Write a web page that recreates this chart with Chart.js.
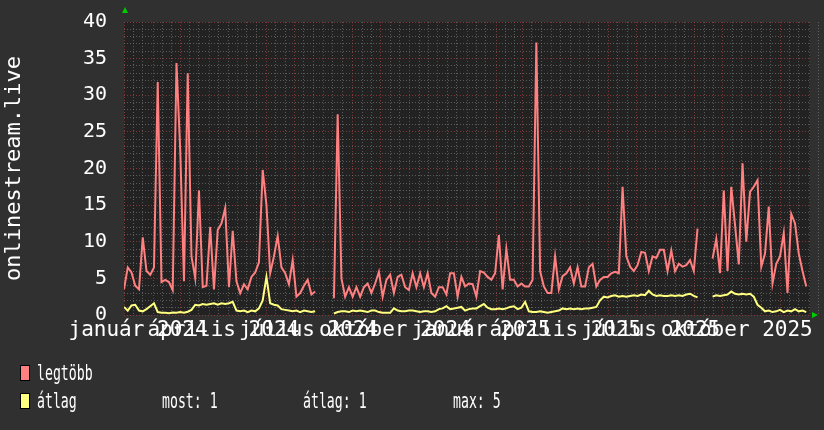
<!DOCTYPE html>
<html>
<head>
<meta charset="utf-8">
<script src="https://cdn.jsdelivr.net/npm/chart.js@4.4.0/dist/chart.umd.min.js"></script>
<style>
  html, body { margin: 0; padding: 0; background: #303030; }
</style>
</head>
<body>
<canvas id="graficoStream" width="824" height="430"></canvas>
<script>
// eje X en días desde 2024-01-01, una muestra cada 4 días
const pasoDias = 4;
const diasTotales = 732;
const inicioMeses = [0, 31, 60, 91, 121, 152, 182, 213, 244, 274, 305, 335, 366, 397, 425, 456, 486, 517, 547, 578, 609, 639, 670, 700, 731];
const etiquetasDias = [15, 106, 197, 289, 381, 471, 562, 654];
const etiquetasTexto = ['január 2024', 'április 2024', 'július 2024', 'október 2024', 'január 2025', 'április 2025', 'július 2025', 'október 2025'];

const maxVals = [
  3.5, 6.5, 5.8, 4.0, 3.5, 10.6, 6.0, 5.5, 6.5, 31.8,
  4.5, 4.8, 4.5, 3.4, 34.4, 22.5, 4.6, 33.0, 8.0, 5.0,
  17.0, 3.8, 4.0, 12.0, 3.5, 11.6, 12.5, 14.6, 3.8, 11.5,
  4.6, 3.0, 4.2, 3.5, 5.2, 5.8, 7.2, 19.8, 15.0, 5.7,
  8.0, 10.8, 6.5, 5.7, 4.2, 7.5, 2.5, 3.0, 4.0, 4.8,
  2.8, 3.2, null, null, null, null, 2.3, 27.4, 5.0, 2.5,
  3.8, 2.5, 3.8, 2.5, 3.8, 4.3, 3.0, 4.3, 5.9, 2.5,
  4.8, 5.5, 3.0, 5.2, 5.5, 3.8, 3.4, 5.7, 3.8, 5.7,
  3.8, 5.7, 3.0, 2.5, 3.8, 3.8, 2.8, 5.7, 5.7, 2.5,
  5.2, 3.9, 4.3, 4.2, 2.5, 6.0, 5.8, 5.2, 4.8, 5.7,
  10.9, 3.5, 9.0, 4.8, 4.8, 3.9, 4.3, 3.9, 3.9, 4.8,
  37.2, 6.0, 3.9, 3.0, 3.0, 8.0, 3.5, 5.3, 5.7, 6.5,
  4.3, 6.5, 3.9, 3.9, 6.5, 7.0, 3.9, 4.8, 5.2, 5.2,
  5.7, 5.9, 5.7, 17.5, 8.0, 6.6, 6.0, 6.8, 8.6, 8.5,
  6.0, 8.0, 7.8, 8.9, 8.9, 6.0, 8.8, 6.0, 7.0, 6.6,
  6.8, 7.5, 6.0, 11.8, null, null, null, 7.7, 10.4, 5.7,
  17.0, 6.0, 17.5, 12.3, 6.9, 20.7, 10.0, 16.8, 17.5, 18.4,
  6.6, 8.4, 14.8, 4.3, 7.0, 8.0, 11.2, 3.0, 13.8, 12.5,
  8.4, 6.0, 3.9
];

const avgVals = [
  1.1, 0.6, 1.3, 1.4, 0.6, 0.5, 0.8, 1.2, 1.6, 0.4,
  0.3, 0.3, 0.25, 0.35, 0.3, 0.4, 0.3, 0.45, 0.7, 1.4,
  1.3, 1.5, 1.4, 1.5, 1.6, 1.4, 1.6, 1.5, 1.6, 1.8,
  0.6, 0.5, 0.6, 0.4, 0.6, 0.5, 0.9, 2.0, 5.2, 1.6,
  1.4, 1.3, 0.8, 0.7, 0.6, 0.5, 0.6, 0.4, 0.6, 0.5,
  0.4, 0.5, null, null, null, null, 0.2, 0.4, 0.5, 0.5,
  0.4, 0.6, 0.5, 0.6, 0.5, 0.4, 0.6, 0.6, 0.4, 0.3,
  0.3, 0.3, 0.9, 0.6, 0.5, 0.5, 0.6, 0.6, 0.5, 0.4,
  0.5, 0.5, 0.4, 0.5, 0.8, 0.9, 1.2, 0.8, 0.9, 1.0,
  1.1, 0.6, 0.8, 0.9, 0.9, 1.2, 1.5, 1.0, 0.8, 0.8,
  0.9, 0.8, 0.9, 1.1, 1.2, 0.8, 1.0, 1.8, 0.5, 0.4,
  0.4, 0.5, 0.4, 0.3, 0.4, 0.5, 0.6, 0.9, 0.8, 0.9,
  0.8, 0.9, 0.8, 0.9, 0.9, 1.0, 1.1, 2.0, 2.5, 2.4,
  2.6, 2.7, 2.5, 2.6, 2.5, 2.6, 2.7, 2.6, 2.8, 2.7,
  3.3, 2.8, 2.6, 2.7, 2.6, 2.6, 2.7, 2.6, 2.7, 2.6,
  2.8, 2.9, 2.6, 2.4, null, null, null, 2.5, 2.7, 2.6,
  2.7, 2.8, 3.2, 2.9, 2.8, 2.9, 2.8, 2.9, 2.5, 1.4,
  1.0, 0.5, 0.6, 0.4, 0.5, 0.7, 0.4, 0.6, 0.5, 0.8,
  0.5, 0.6, 0.4
];

const series = [
  { nombre: 'legtöbb', color: '#ff8080', valores: maxVals },
  { nombre: 'átlag', color: '#ffff80', valores: avgVals }
];
const estadisticas = [['most', 1], ['átlag', 1], ['max', 5]];

const fuente = "'DejaVu Sans Mono', monospace";
const rojoGrid = 'rgba(190, 70, 70, 0.6)';
const grisGrid = 'rgba(130, 130, 130, 0.6)';

// rejilla menor: cada ~10 días dentro del mes
const diasMenores = [];
inicioMeses.forEach(d => { diasMenores.push(d + 10, d + 20); });

const fondoPlugin = {
  id: 'fondo',
  beforeDraw(chart) {
    const { ctx, chartArea: a } = chart;
    ctx.save();
    ctx.fillStyle = '#303030';
    ctx.fillRect(0, 0, chart.width, chart.height);
    ctx.fillStyle = '#222222';
    ctx.fillRect(a.left, a.top, a.right - a.left, a.bottom - a.top);
    ctx.restore();
  },
  afterDraw(chart) {
    const { ctx, chartArea: a } = chart;
    ctx.save();
    // flechas verdes de los ejes
    ctx.fillStyle = '#00cc00';
    ctx.beginPath();
    ctx.moveTo(a.left - 2, 13); ctx.lineTo(a.left + 4, 13); ctx.lineTo(a.left + 1, 7);
    ctx.fill();
    ctx.beginPath();
    ctx.moveTo(a.right + 2, a.bottom - 3); ctx.lineTo(a.right + 2, a.bottom + 3); ctx.lineTo(a.right + 8, a.bottom);
    ctx.fill();

    // leyenda estilo rrdtool
    const texto = (t, x, y) => {
      ctx.save();
      ctx.translate(x, y);
      ctx.scale(0.6, 1);
      ctx.fillText(t, 0, 0);
      ctx.restore();
    };
    ctx.font = '22px ' + fuente;
    ctx.textBaseline = 'alphabetic';
    series.forEach((s, fila) => {
      const top = 365 + fila * 28;
      ctx.fillStyle = s.color;
      ctx.fillRect(20, top, 10, 16);
      ctx.strokeStyle = '#000';
      ctx.lineWidth = 1;
      ctx.strokeRect(20.5, top + 0.5, 9, 15);
      ctx.fillStyle = '#ffffff';
      texto(s.nombre, 37, top + 15);
    });
    const colX = [162, 303, 453];
    estadisticas.forEach((e, k) => {
      texto(e[0] + ': ' + e[1], colX[k], 365 + 28 + 15);
    });
    ctx.restore();
  }
};

const gridOnly = (axis, ticksArr, color) => ({
  type: 'linear',
  axis: axis,
  position: axis === 'x' ? 'bottom' : 'left',
  min: 0,
  max: axis === 'x' ? diasTotales : 40,
  ticks: { display: false },
  grid: { color: color, lineWidth: 1, drawTicks: false },
  border: { display: false, dash: [1, 2] },
  afterBuildTicks: scale => { scale.ticks = ticksArr.map(v => ({ value: v })); },
  afterFit: scale => {
    if (axis === 'x') scale.height = 0; else scale.width = 0;
    scale.paddingTop = 0; scale.paddingBottom = 0;
  }
});

const yMenores = [];
for (let v = 1; v < 40; v++) if (v % 5 !== 0) yMenores.push(v);

const ctx = document.getElementById('graficoStream').getContext('2d');
new Chart(ctx, {
  type: 'line',
  data: {
    datasets: series.map((s, i) => ({
      label: s.nombre,
      data: s.valores.map((v, k) => ({ x: k * pasoDias, y: v })),
      borderColor: s.color,
      backgroundColor: s.color,
      borderWidth: 2,
      pointRadius: 0,
      tension: 0,
      spanGaps: false,
      order: i === 0 ? 1 : 0
    }))
  },
  plugins: [fondoPlugin],
  options: {
    responsive: false,
    animation: false,
    layout: { padding: { left: 0, right: 14, top: 22, bottom: 0 } },
    plugins: {
      legend: { display: false },
      tooltip: { enabled: false }
    },
    scales: {
      xMenor: gridOnly('x', diasMenores, grisGrid),
      xMayor: gridOnly('x', inicioMeses, rojoGrid),
      yMenor: gridOnly('y', yMenores, grisGrid),
      x: {
        type: 'linear',
        min: 0,
        max: diasTotales,
        grid: { display: false, drawTicks: false },
        border: { display: false },
        ticks: {
          autoSkip: false,
          maxRotation: 0,
          minRotation: 0,
          padding: 3,
          color: '#ffffff',
          font: { family: fuente, size: 21 },
          callback: (value, index) => etiquetasTexto[index]
        },
        afterBuildTicks: scale => { scale.ticks = etiquetasDias.map(v => ({ value: v })); },
        afterFit: scale => { scale.height = 115; }
      },
      y: {
        type: 'linear',
        min: 0,
        max: 40,
        grid: { color: rojoGrid, drawTicks: false },
        border: { display: false, dash: [1, 2] },
        ticks: {
          stepSize: 5,
          padding: 17,
          color: '#ffffff',
          font: { family: fuente, size: 20 }
        },
        title: {
          display: true,
          text: 'onlinestream.live',
          color: '#ffffff',
          font: { family: fuente, size: 22 },
          padding: { top: 1, bottom: 0 }
        },
        afterFit: scale => {
          scale.width = 124;
          scale.paddingTop = 0; scale.paddingBottom = 0;
        }
      }
    }
  }
});
</script>
</body>
</html>
